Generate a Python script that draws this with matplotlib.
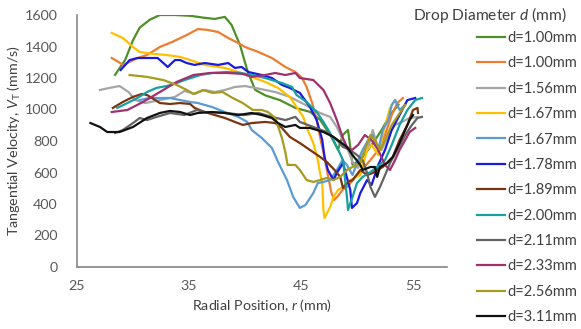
import matplotlib
matplotlib.use("Agg")
import matplotlib.pyplot as plt

plt.rcParams['font.family'] = ['Lato', 'DejaVu Sans']
plt.rcParams['mathtext.fontset'] = 'custom'
plt.rcParams['mathtext.rm'] = 'Lato'
plt.rcParams['mathtext.it'] = 'Lato:italic'

labels = ["d=1.00mm", "d=1.00mm", "d=1.56mm", "d=1.67mm", "d=1.67mm", "d=1.78mm",
          "d=1.89mm", "d=2.00mm", "d=2.11mm", "d=2.33mm", "d=2.56mm", "d=3.11mm"]
colors = ['#4E8F2A', '#ED7D31', '#A5A5A5', '#FFC000', '#5B9BD5', '#1A1AE0',
          '#7A3510', '#16A0A0', '#636363', '#A0306E', '#A69B1E', '#111111']

r_green = [28.4, 29.3, 30.0, 30.6, 31.5, 32.4, 33.75, 35.1, 36.4, 37.3, 38.2, 38.8, 39.55, 40.2, 40.9, 41.8, 43.1, 44.5, 45.8, 46.7, 47.6, 48.3, 48.75, 49.2, 49.6, 50.3, 51.0, 51.6, 52.2, 52.95, 53.7]
v_green = [1220, 1315, 1440, 1520, 1570, 1600, 1600, 1595, 1582, 1575, 1588, 1537, 1410, 1250, 1125, 1090, 1060, 1010, 985, 935, 840, 745, 840, 870, 650, 680, 745, 805, 870, 965, 1030]

r_orange = [28.1, 28.7, 29.1, 29.7, 30.4, 31.25, 32.4, 33.5, 34.8, 35.8, 36.7, 37.6, 38.5, 39.4, 40.0, 41.2, 42.4, 43.6, 44.5, 45.1, 45.5, 46.0, 46.4, 46.7, 47.05, 47.4, 47.7, 47.95, 48.3, 48.7, 49.2, 49.8, 50.4, 51.2, 51.9, 52.5, 53.1, 53.6, 54.1]
v_orange = [1327, 1302, 1283, 1302, 1327, 1346, 1397, 1429, 1473, 1511, 1505, 1492, 1454, 1422, 1397, 1365, 1327, 1270, 1238, 1200, 1143, 1041, 933, 826, 711, 584, 476, 425, 451, 489, 514, 565, 616, 679, 743, 838, 965, 1041, 1073]

r_lgray = [27.05, 27.9, 28.8, 29.6, 30.2, 31.1, 32.0, 32.9, 33.75, 34.6, 35.5, 36.4, 37.3, 38.2, 39.1, 40.0, 40.9, 41.8, 42.7, 44.0, 45.4, 46.7, 47.6, 48.2, 48.75, 49.2, 49.6, 50.1, 50.5, 51.0, 51.4, 51.8, 52.2, 52.8, 53.4, 54.0, 54.7, 55.4]
v_lgray = [1124, 1137, 1149, 1111, 1060, 1041, 1054, 1067, 1080, 1118, 1099, 1124, 1111, 1124, 1143, 1149, 1137, 1124, 1111, 1080, 1029, 978, 953, 889, 806, 743, 667, 629, 711, 756, 870, 775, 743, 838, 902, 921, 946, 953]

r_yellow = [28.1, 29.1, 30.0, 30.6, 31.8, 33.0, 34.2, 35.1, 36.4, 38.2, 39.7, 40.6, 41.8, 42.95, 44.0, 45.2, 45.6, 46.1, 46.5, 46.7, 46.9, 47.0, 47.1, 47.6, 47.9, 48.3, 48.75, 49.4, 50.3, 50.9, 51.3, 51.9, 52.4, 52.95, 53.4]
v_yellow = [1486, 1454, 1397, 1365, 1353, 1346, 1334, 1314, 1283, 1264, 1232, 1207, 1175, 1137, 1080, 953, 870, 787, 679, 597, 533, 362, 311, 381, 445, 489, 508, 552, 584, 743, 775, 711, 870, 1010, 1060]

r_lblue = [30.6, 31.5, 32.4, 33.3, 34.2, 35.1, 35.8, 37.05, 38.2, 39.4, 40.2, 40.6, 41.5, 42.4, 42.95, 43.75, 44.3, 44.9, 45.4, 46.1, 46.5, 47.0, 47.6, 48.2, 48.7, 49.1, 49.6, 50.1, 50.5, 51.0, 51.4, 51.9, 52.3, 52.8, 53.1, 53.4, 53.8, 54.3]
v_lblue = [1060, 1073, 1073, 1073, 1060, 1048, 1041, 1016, 984, 953, 921, 870, 819, 756, 667, 552, 445, 375, 394, 470, 533, 540, 552, 616, 679, 648, 584, 679, 743, 806, 838, 743, 870, 933, 1029, 1060, 997, 1029]

r_blue = [28.9, 29.7, 30.4, 31.5, 32.2, 32.9, 33.1, 33.75, 34.2, 34.8, 35.5, 36.4, 37.6, 38.5, 39.1, 39.7, 40.3, 41.5, 42.4, 43.3, 44.0, 44.9, 45.8, 46.4, 46.9, 47.1, 47.4, 47.9, 48.2, 48.75, 49.4, 49.55, 50.0, 50.3, 50.9, 51.3, 51.9, 52.5, 53.1, 53.8, 54.5, 55.2]
v_blue = [1251, 1314, 1327, 1327, 1327, 1283, 1270, 1314, 1314, 1295, 1283, 1295, 1283, 1295, 1264, 1270, 1238, 1219, 1200, 1156, 1137, 1105, 1016, 933, 806, 699, 616, 552, 597, 660, 489, 375, 406, 470, 552, 521, 648, 743, 870, 965, 1060, 1073]

r_brown = [28.2, 29.1, 30.0, 30.8, 31.25, 31.7, 32.4, 33.3, 34.2, 35.1, 35.5, 36.4, 37.3, 38.2, 39.1, 39.8, 40.6, 41.8, 42.7, 43.3, 44.0, 44.9, 45.8, 46.7, 47.3, 48.0, 48.5, 48.75, 49.2, 49.6, 50.3, 50.9, 51.4, 52.3, 53.2, 53.8, 54.5, 55.0, 55.4, 55.45]
v_brown = [1010, 1048, 1080, 1099, 1092, 1073, 1041, 1035, 1041, 1035, 1010, 984, 965, 946, 921, 902, 914, 921, 914, 883, 826, 787, 743, 699, 667, 616, 572, 502, 540, 552, 616, 584, 597, 635, 699, 806, 902, 997, 1010, 978]

r_teal = [28.6, 29.5, 30.4, 31.25, 32.1, 33.0, 33.9, 34.6, 36.0, 37.1, 38.4, 39.55, 40.7, 41.8, 43.3, 44.2, 44.6, 45.5, 46.4, 47.0, 47.6, 48.2, 48.75, 49.1, 49.2, 49.6, 50.0, 50.5, 51.2, 51.8, 52.5, 53.1, 53.8, 54.5, 55.2, 55.8]
v_teal = [1010, 1041, 1073, 1111, 1137, 1149, 1168, 1187, 1219, 1232, 1238, 1232, 1219, 1200, 1168, 1143, 1092, 1048, 984, 921, 851, 762, 679, 445, 362, 445, 533, 572, 603, 635, 679, 775, 902, 997, 1060, 1073]

r_dgray = [28.4, 29.1, 30.0, 30.6, 31.25, 32.1, 32.7, 33.3, 34.6, 35.7, 36.4, 38.2, 40.0, 41.2, 42.4, 43.6, 44.5, 44.9, 46.1, 47.3, 48.2, 48.75, 49.4, 50.0, 50.5, 50.9, 51.2, 51.6, 52.05, 52.7, 52.95, 53.6, 54.3, 54.9, 55.4, 55.8]
v_dgray = [851, 870, 914, 946, 933, 953, 965, 978, 965, 997, 984, 978, 965, 978, 953, 933, 953, 921, 889, 857, 806, 762, 743, 711, 679, 597, 508, 445, 508, 616, 660, 743, 838, 902, 946, 953]

r_magenta = [28.1, 29.5, 30.9, 32.4, 33.9, 35.4, 36.9, 38.4, 39.8, 40.6, 41.8, 42.7, 43.6, 44.5, 44.9, 46.1, 47.0, 47.6, 48.2, 48.7, 49.1, 49.55, 50.1, 50.7, 51.3, 51.9, 52.5, 52.95, 53.4, 53.8, 54.3, 54.7, 55.2]
v_magenta = [984, 997, 1048, 1111, 1175, 1219, 1232, 1232, 1226, 1207, 1219, 1232, 1219, 1232, 1200, 1187, 1124, 1041, 933, 826, 762, 743, 775, 838, 806, 743, 648, 616, 679, 743, 806, 857, 883]

r_olive = [29.7, 31.25, 32.7, 33.9, 34.8, 35.4, 36.25, 37.1, 38.0, 38.9, 39.8, 40.7, 41.5, 42.05, 42.7, 43.3, 43.6, 43.8, 44.5, 44.9, 45.5, 46.1, 46.7, 47.3, 47.9, 48.5, 49.1, 49.6, 50.3, 50.7, 51.2, 51.6, 52.05, 52.5, 53.1, 53.7, 54.3]
v_olive = [1219, 1207, 1187, 1156, 1124, 1099, 1124, 1105, 1111, 1073, 1041, 997, 997, 984, 946, 819, 730, 648, 648, 616, 552, 540, 552, 565, 552, 572, 616, 635, 660, 743, 838, 806, 743, 806, 902, 965, 1029]

r_black = [26.2, 27.05, 27.7, 28.8, 30.0, 31.25, 32.4, 33.3, 34.2, 35.1, 35.8, 37.05, 38.2, 39.4, 40.6, 41.5, 42.4, 42.95, 43.6, 44.5, 44.9, 45.8, 47.0, 47.9, 48.5, 49.1, 49.6, 50.3, 50.5, 51.2, 51.6, 51.8, 52.05, 52.7, 53.2, 53.8, 54.3, 54.7, 55.0]
v_black = [914, 889, 857, 857, 889, 946, 978, 991, 984, 965, 978, 984, 978, 965, 978, 965, 946, 914, 889, 902, 883, 883, 857, 826, 794, 762, 711, 648, 616, 635, 635, 572, 635, 660, 699, 787, 870, 933, 965]

series_r = [r_green, r_orange, r_lgray, r_yellow, r_lblue, r_blue,
            r_brown, r_teal, r_dgray, r_magenta, r_olive, r_black]
series_v = [v_green, v_orange, v_lgray, v_yellow, v_lblue, v_blue,
            v_brown, v_teal, v_dgray, v_magenta, v_olive, v_black]

x_ticks = [25, 35, 45, 55]
y_ticks = [0, 200, 400, 600, 800, 1000, 1200, 1400, 1600]

W, H = 581, 329
fig = plt.figure(figsize=(W / 100, H / 100), dpi=100)
ax = fig.add_axes([77 / W, 1 - 267 / H, (446.6 - 77) / W, (267 - 15) / H])

handles = []
for rr, vv, c, lab in zip(series_r, series_v, colors, labels):
    h, = ax.plot(rr, vv, color=c, lw=1.6, label=lab, solid_joinstyle='round')
    handles.append(h)

ax.set_xlim(25, 58)
ax.set_ylim(0, 1600)
ax.set_xticks(x_ticks)
ax.set_yticks(y_ticks)
ax.tick_params(length=0, labelsize=10.3, colors='#595959')
ax.tick_params(axis='y', pad=14)
ax.tick_params(axis='x', pad=9)
for s in ['top', 'right']:
    ax.spines[s].set_visible(False)
for s in ['left', 'bottom']:
    ax.spines[s].set_color('#858585')
    ax.spines[s].set_linewidth(1.2)

ax.set_ylabel(r'Tangential Velocity, $\it{V}_\mathrm{T}$ (mm/s)', fontsize=10.3, color='#404040')
ax.set_xlabel(r'Radial Position, $\it{r}$ (mm)', fontsize=10.3, color='#404040')
ax.yaxis.set_label_coords(-0.145, 0.5)
ax.xaxis.set_label_coords(0.5, -0.118)

fig.text(413 / W, 1 - 15 / H, r'Drop Diameter $\it{d}$ (mm)', fontsize=11.2,
         color='#404040', ha='left', va='center')

leg = fig.legend(handles=handles, loc='upper left', bbox_to_anchor=(477 / W, 1 - 31 / H),
                 frameon=False, fontsize=10.5, handlelength=1.9, handletextpad=0.15,
                 labelspacing=0.78, borderpad=0, borderaxespad=0)
for t in leg.get_texts():
    t.set_color('#404040')

fig.savefig('out.png', dpi=100)
